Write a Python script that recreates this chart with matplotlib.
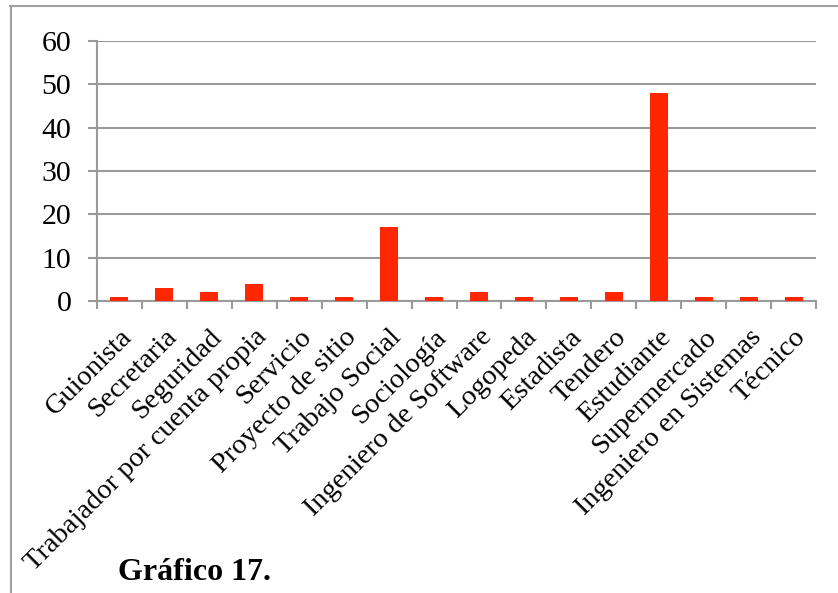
import matplotlib
matplotlib.use("Agg")
import matplotlib.pyplot as plt
from matplotlib.lines import Line2D
import numpy as np

categories = ["Guionista", "Secretaria", "Seguridad", "Trabajador por cuenta propia",
              "Servicio", "Proyecto de sitio", "Trabajo Social", "Sociología",
              "Ingeniero de Software", "Logopeda", "Estadista", "Tendero",
              "Estudiante", "Supermercado", "Ingeniero en Sistemas", "Técnico"]
values = [1, 3, 2, 4, 1, 1, 17, 1, 2, 1, 1, 2, 48, 1, 1, 1]
yticks = [0, 10, 20, 30, 40, 50, 60]
title = "Gráfico 17."

W, H = 838, 593
fig = plt.figure(figsize=(W / 100, H / 100), dpi=100)
fig.patch.set_facecolor("white")

left, right, top, bottom = 97, 816, 41, 301
ax = fig.add_axes([left / W, 1 - bottom / H, (right - left) / W, (bottom - top) / H])

grid_c = "#9a9a9a"
x = np.arange(len(categories)) + 0.5
ax.bar(x, values, width=0.4, color="#ff2600", zorder=3)
ax.set_xlim(0, len(categories))
ax.set_ylim(0, 60)
ax.set_yticks(yticks)
ax.yaxis.grid(True, color=grid_c, linewidth=1.5, zorder=0)
for s in ["top", "right"]:
    ax.spines[s].set_visible(False)
for s in ["left", "bottom"]:
    ax.spines[s].set_color(grid_c)
    ax.spines[s].set_linewidth(1.5)

serif = ["Liberation Serif", "DejaVu Serif"]
ax.tick_params(axis="y", length=6.5, width=1.5, color=grid_c, pad=12, labelsize=21.5)
for lab in ax.get_yticklabels():
    lab.set_fontfamily(serif)

ax.set_xticks(np.arange(len(categories) + 1))
ax.set_xticklabels([])
ax.tick_params(axis="x", which="major", length=5.8, width=1.5, color=grid_c)
ax.set_xticks(x, minor=True)
ax.set_xticklabels(categories, minor=True, rotation=45, ha="right",
                   rotation_mode="anchor", fontsize=20.5, fontfamily=serif)
ax.tick_params(axis="x", which="minor", length=0, pad=17)

# outer frame (clipped at right and bottom)
fig.add_artist(Line2D([10 / W, 1.0], [1 - 6 / H, 1 - 6 / H], color="#a0a0a0", linewidth=1.5))
fig.add_artist(Line2D([10.5 / W, 10.5 / W], [0, 1 - 6 / H], color="#a0a0a0", linewidth=1.5))

fig.text(118 / W, 1 - 572 / H, title, fontsize=23, fontweight="bold",
         fontfamily=serif, va="center", ha="left")

fig.savefig("out.png", dpi=100)
